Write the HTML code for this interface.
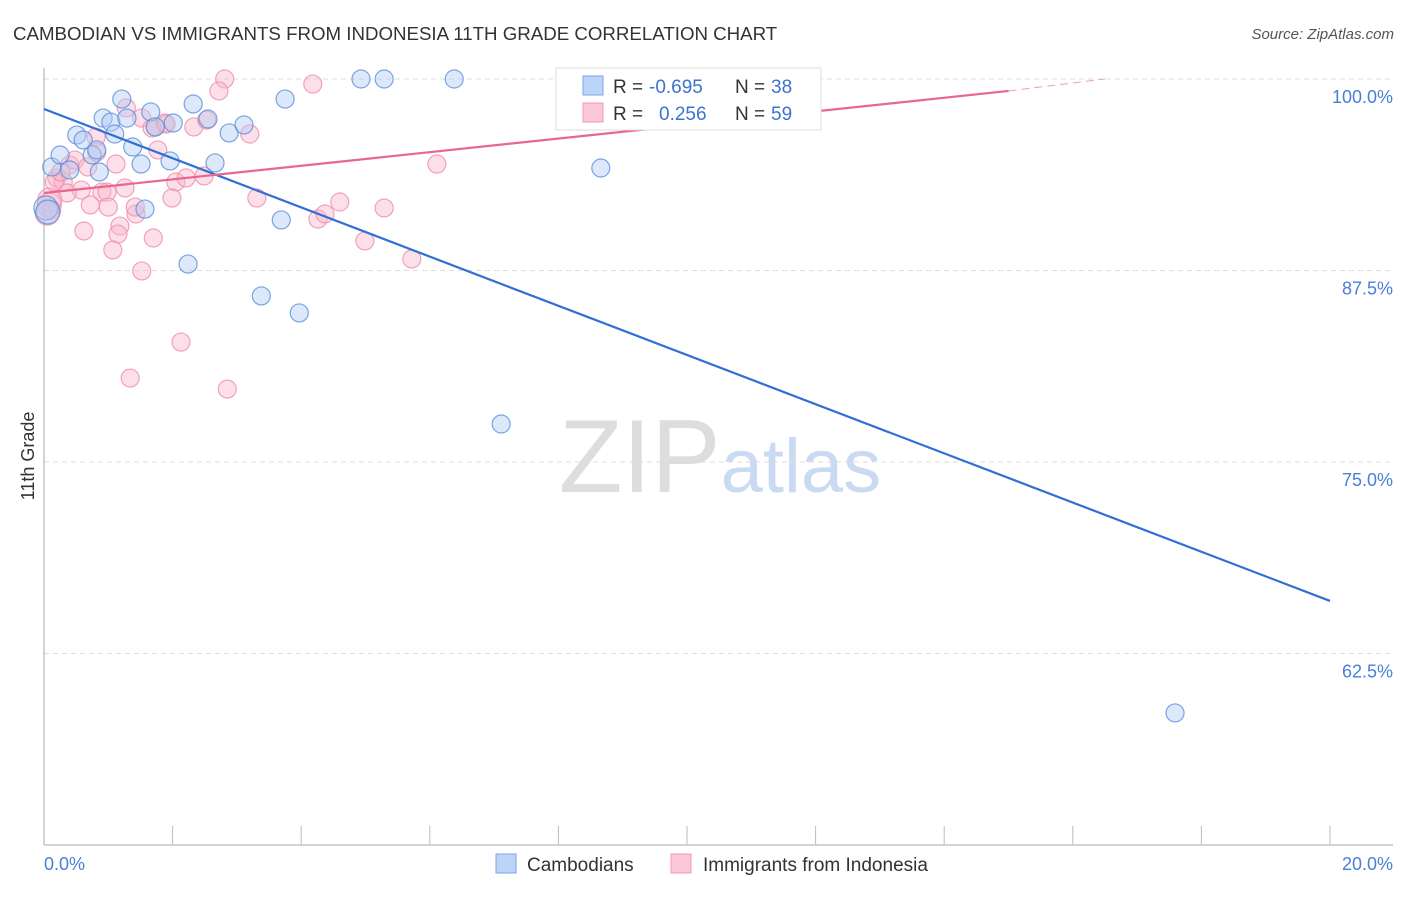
<!DOCTYPE html>
<html><head><meta charset="utf-8"><style>
body{margin:0;background:#fff;font-family:"Liberation Sans",sans-serif;}
svg text{font-family:"Liberation Sans",sans-serif;}
</style></head><body>
<svg id="chart" width="1406" height="892" xmlns="http://www.w3.org/2000/svg">
<text x="13" y="40" font-size="18.7" fill="#333">CAMBODIAN VS IMMIGRANTS FROM INDONESIA 11TH GRADE CORRELATION CHART</text>
<text x="1394" y="39" font-size="15" fill="#555" font-style="italic" text-anchor="end">Source: ZipAtlas.com</text>
<text x="720" y="492" font-size="104" text-anchor="middle" fill="#ddd" font-family="Liberation Serif">ZIP<tspan fill="#c9daf2" font-family="Liberation Sans" font-size="76">atlas</tspan></text>
<g id="grid"></g>
<g id="axes"></g>
<g id="pts"></g>
<g id="trend"></g>
<text transform="translate(34,456) rotate(-90)" font-size="18" fill="#333" text-anchor="middle">11th Grade</text>
<g>
<rect x="556" y="68" width="265" height="62" fill="#fff" stroke="#ddd"/>
<rect x="583" y="76" width="20" height="19" fill="#bcd4f7" stroke="#7aa6e8"/>
<rect x="583" y="103" width="20" height="19" fill="#fbc8d8" stroke="#f09ab5"/>
<text x="613" y="93" font-size="19" fill="#333">R =</text>
<text x="649" y="93" font-size="19" fill="#3b73d1">-0.695</text>
<text x="735" y="93" font-size="19" fill="#333">N =</text>
<text x="771" y="93" font-size="19" fill="#3b73d1">38</text>
<text x="613" y="120" font-size="19" fill="#333">R =</text>
<text x="659" y="120" font-size="19" fill="#3b73d1">0.256</text>
<text x="735" y="120" font-size="19" fill="#333">N =</text>
<text x="771" y="120" font-size="19" fill="#3b73d1">59</text>
</g>
<g>
<rect x="496" y="854" width="20" height="19" fill="#bcd4f7" stroke="#7aa6e8"/>
<text x="527" y="871" font-size="19" fill="#333">Cambodians</text>
<rect x="671" y="854" width="20" height="19" fill="#fbc8d8" stroke="#f09ab5"/>
<text x="703" y="871" font-size="19" fill="#333">Immigrants from Indonesia</text>
</g>
</svg>
<script>
const yTicks=[100,87.5,75,62.5];
const yTickLabels=["100.0%","87.5%","75.0%","62.5%"];
const xEndLabels=["0.0%","20.0%"];
const blueX=[0.12,0.25,0.51,0.61,0.75,0.82,0.92,1.04,1.10,1.21,1.29,1.38,1.51,1.57,1.66,1.73,1.96,2.01,2.24,2.32,2.55,2.66,2.88,3.11,3.38,3.69,3.75,3.97,4.93,5.29,6.38,7.11,8.66,17.59,0.40,0.86,0.03,0.06];
const blueY=[94.26,95.04,96.34,96.02,95.04,95.37,97.45,97.19,96.41,98.69,97.45,95.56,94.45,91.51,97.85,96.87,94.65,97.13,87.92,98.37,97.39,94.52,96.48,97.00,85.84,90.80,98.69,84.73,100,100,100,77.48,94.19,58.62,94.06,93.93,91.58,91.32];
const pinkX=[2.81,2.72,4.18,10.51,9.89,1.28,1.52,1.73,1.88,2.33,2.53,3.20,0.81,0.40,0.48,0.68,0.82,1.12,1.77,0.20,0.30,0.58,0.90,0.98,1.26,2.05,2.21,2.49,0.36,0.72,1.00,1.43,1.18,1.15,1.70,0.62,1.07,1.52,1.99,3.31,4.60,4.99,5.29,5.72,6.11,4.26,4.37,2.13,1.34,2.85,0.08,0.09,0.12,0.05,0.16,0.26,1.42,1.68,1.90];
const pinkY=[100,99.22,99.67,100,100,98.11,97.45,96.87,97.13,96.87,97.32,96.41,96.21,94.39,94.71,94.26,95.23,94.45,95.37,93.54,93.28,92.75,92.62,92.62,92.89,93.28,93.54,93.67,92.56,91.78,91.64,91.19,90.40,89.88,89.62,90.08,88.84,87.47,92.23,92.23,91.97,89.43,91.58,88.25,94.45,90.86,91.19,82.83,80.48,79.76,91.78,92.10,91.45,91.25,93.28,93.93,91.64,96.80,97.06];
const blueTrend=[[0,98.04],[20,65.93]];
const pinkTrend=[[0,92.56],[15,99.22]];
const pinkTrendExt=[[15,99.22],[16.5,100]];

const X0=44,X1=1330,Y100=79,PXPER=191.5/12.5;
const sx=v=>X0+(v/20)*(X1-X0);
const sy=v=>Y100+(100-v)*PXPER;
const NS="http://www.w3.org/2000/svg";
function mk(tag,attrs,parent){const e=document.createElementNS(NS,tag);for(const k in attrs)e.setAttribute(k,attrs[k]);parent.appendChild(e);return e;}
const grid=document.getElementById('grid'),axes=document.getElementById('axes'),pts=document.getElementById('pts'),trend=document.getElementById('trend');
yTicks.forEach((t,i)=>{
  const l=mk('line',{x1:X0,x2:1393,y1:sy(t),y2:sy(t),stroke:'#ddd','stroke-dasharray':'5,4'},grid);
  
  
  const tx=mk('text',{x:1393,y:sy(t)+24,'font-size':18,fill:'#4a7fd8','text-anchor':'end'},axes);
  tx.textContent=yTickLabels[i];
  
  
});
const ax=mk('line',{x1:X0,x2:X0,y1:68,y2:845,stroke:'#aaa'},axes);


const bx=mk('line',{x1:X0,x2:1393,y1:845,y2:845,stroke:'#aaa'},axes);


for(let v=2;v<=20;v+=2){
  const t=mk('line',{x1:sx(v),x2:sx(v),y1:826,y2:845,stroke:'#bbb'},axes);
  
  
}
[[0,'start'],[20,'end']].forEach((p,i)=>{
  const t=mk('text',{x:i?1393:44,y:870,'font-size':18,fill:'#4a7fd8','text-anchor':p[1]},axes);
  t.textContent=xEndLabels[i];
  
  
});
function dots(xs,ys,fill,stroke,name){
  xs.forEach((x,i)=>{
    const r=(x<0.1)?12:9;
    const c=mk('circle',{cx:sx(x),cy:sy(ys[i]),r:r,fill:fill,'fill-opacity':0.45,stroke:stroke,'stroke-width':1.2,'stroke-opacity':0.8},pts);
    
    
  });
}
dots(pinkX,pinkY,'#f9b8cb','#ee8fab','point-indonesia');
dots(blueX,blueY,'#b3cdf3','#5a8fdc','point-cambodian');
function ln(p,color,dash,name){
  const l=mk('line',{x1:sx(p[0][0]),y1:sy(p[0][1]),x2:sx(p[1][0]),y2:sy(p[1][1]),stroke:color,'stroke-width':dash?1:2.2},trend);
  if(dash)l.setAttribute('stroke-dasharray','8,5');
  
  
}
ln(blueTrend,'#2f6fd6',false,'trend-cambodians');
ln(pinkTrend,'#e8678f',false,'trend-indonesia');
ln(pinkTrendExt,'#e8a0b6',true,'trend-indonesia-extension');
</script>
</body></html>
